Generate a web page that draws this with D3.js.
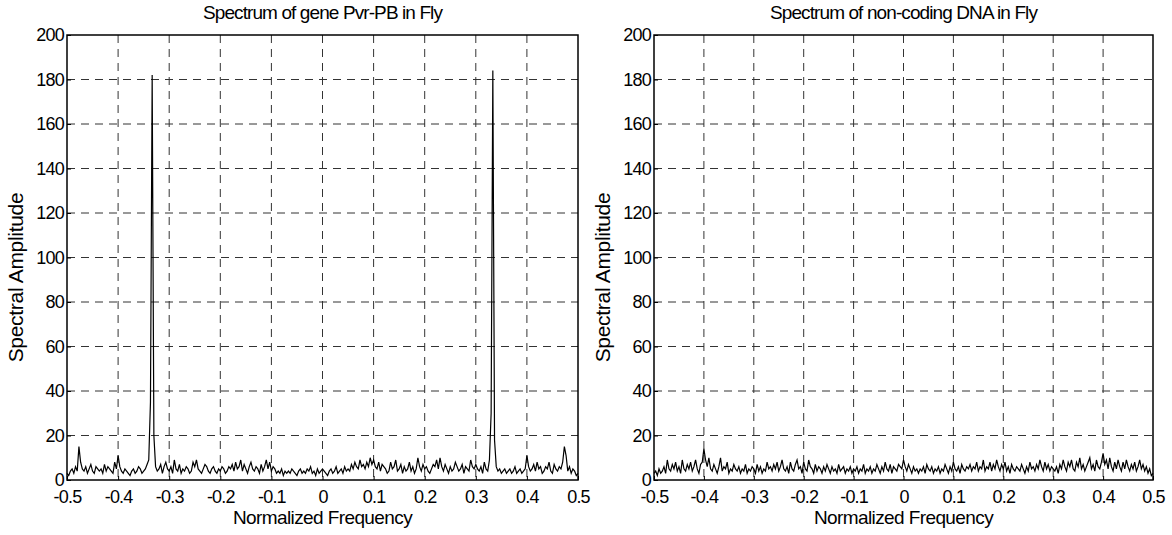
<!DOCTYPE html>
<html>
  <head>
    <title>Spectrum of gene vs non-coding DNA</title>
    <script src="https://cdn.jsdelivr.net/npm/d3@7/dist/d3.min.js"></script>
    <style>
      body { margin: 0; background: #fff; }
      text { font-family: "Liberation Sans", Arial, sans-serif; fill: #000; }
    </style>
  </head>
  <body>
    <svg width="1172" height="535"></svg>
    <script>
      // amplitude per frequency bin, 301 bins from -0.5 to 0.5
      const geneAmp = [
        3,2,4,5,3,6,4,15,8,5,
        4,6,3,5,7,4,3,6,5,4,
        5,3,7,4,6,5,4,3,8,5,
        11,6,4,3,5,4,3,2,4,5,
        3,4,6,5,3,4,5,7,9,35,
        182,20,6,4,5,7,3,6,8,5,
        4,6,3,9,5,4,7,3,5,4,
        6,5,3,4,8,6,9,5,4,3,
        5,7,6,4,3,5,6,4,3,5,
        4,6,5,3,4,6,5,7,4,8,
        5,6,9,4,7,5,3,6,8,5,
        4,6,5,3,7,4,6,9,5,8,
        4,6,5,3,4,3,5,2,4,3,
        4,3,5,4,3,2,4,5,3,4,
        3,5,4,6,3,4,2,5,3,4,
        5,4,3,2,4,5,3,4,6,3,
        4,5,3,6,4,5,4,7,5,8,
        6,5,9,6,7,5,8,6,10,7,
        9,6,5,8,4,7,6,5,3,4,
        8,5,6,9,4,5,7,3,6,4,
        5,8,4,6,3,5,10,6,4,7,
        5,6,4,3,5,7,6,9,5,10,
        6,4,7,5,3,6,4,5,8,6,
        4,5,7,3,6,5,4,9,6,5,
        7,5,4,6,3,8,5,4,9,30,
        184,18,6,4,5,3,4,5,3,4,
        5,3,4,6,3,4,5,3,4,5,
        11,6,4,5,7,4,8,5,6,3,
        4,6,5,8,4,3,7,5,4,6,
        5,8,15,11,4,6,3,5,4,2,
        3
      ];
      const noncodingAmp = [
        3,4,2,5,3,4,6,3,9,5,
        4,7,5,8,4,6,3,9,5,4,
        7,5,8,4,6,9,5,3,7,8,
        14,9,6,10,5,4,7,5,3,6,
        10,4,6,5,8,3,5,4,7,5,
        4,6,3,5,4,7,3,5,4,6,
        5,3,7,4,6,3,5,4,8,5,
        6,4,7,5,8,4,6,9,5,4,
        6,3,8,5,4,7,9,5,6,3,
        8,5,4,9,6,5,3,7,4,6,
        5,3,6,4,7,5,3,6,4,5,
        3,7,4,5,6,3,5,4,6,3,
        5,4,6,3,5,4,7,3,5,4,
        6,3,5,4,7,5,3,6,4,8,
        5,4,7,3,6,5,4,7,6,5,
        9,6,4,7,5,3,6,4,5,3,
        5,4,6,3,7,5,4,6,3,5,
        4,6,3,5,4,7,5,3,6,4,
        8,5,4,6,3,7,5,4,6,5,
        7,4,6,5,8,4,6,5,9,4,
        6,5,8,4,7,5,9,6,4,7,
        5,8,4,6,3,7,5,4,6,5,
        4,7,5,3,6,4,8,5,6,4,
        7,5,9,6,4,8,5,7,4,6,
        5,4,6,3,7,5,9,6,4,8,
        6,9,5,4,8,6,10,5,7,4,
        6,8,10,5,7,4,9,6,5,8,
        12,7,9,5,10,6,4,8,5,9,
        6,4,8,5,9,6,4,7,5,8,
        4,6,9,5,7,4,6,3,5,2,
        3
      ];
      const xTicks = [-0.5, -0.4, -0.3, -0.2, -0.1, 0, 0.1, 0.2, 0.3, 0.4, 0.5];
      const yTicks = [0, 20, 40, 60, 80, 100, 120, 140, 160, 180, 200];
      const titles = ["Spectrum of gene Pvr-PB in Fly", "Spectrum of non-coding DNA in Fly"];

      const svg = d3.select("svg");
      const plotTop = 35, plotBottom = 480;
      const panels = [
        { left: 67, right: 578, amp: geneAmp, title: titles[0] },
        { left: 654, right: 1153, amp: noncodingAmp, title: titles[1] }
      ];

      const fmt = d => String(d);

      panels.forEach(p => {
        const w = p.right - p.left, h = plotBottom - plotTop;
        const x = d3.scaleLinear().domain([-0.5, 0.5]).range([0, w]);
        const y = d3.scaleLinear().domain([0, 200]).range([h, 0]);
        const g = svg.append("g").attr("transform", `translate(${p.left},${plotTop})`);

        // grid
        g.append("g").selectAll("line").data(xTicks.slice(1, -1)).join("line")
          .attr("x1", d => x(d)).attr("x2", d => x(d))
          .attr("y1", 0).attr("y2", h)
          .attr("stroke", "#333").attr("stroke-width", 1)
          .attr("stroke-dasharray", "8,6");
        g.append("g").selectAll("line").data(yTicks.slice(1, -1)).join("line")
          .attr("x1", 0).attr("x2", w)
          .attr("y1", d => y(d)).attr("y2", d => y(d))
          .attr("stroke", "#333").attr("stroke-width", 1)
          .attr("stroke-dasharray", "8,6");

        // axes
        const xa = g.append("g").attr("transform", `translate(0,${h})`)
          .call(d3.axisBottom(x).tickValues(xTicks).tickFormat(fmt).tickSize(-4).tickPadding(10));
        const ya = g.append("g")
          .call(d3.axisLeft(y).tickValues(yTicks).tickFormat(fmt).tickSize(-4).tickPadding(3));
        [xa, ya].forEach(a => {
          a.select(".domain").remove();
          a.selectAll("text").style("font-size", "18px").style("letter-spacing", "-0.8px")
            .attr("fill", "#000");
          a.selectAll(".tick line").attr("stroke", "#000");
        });

        // spectrum line
        const n = p.amp.length;
        const line = d3.line()
          .x((d, i) => x(-0.5 + i / (n - 1)))
          .y(d => y(d));
        g.append("path").datum(p.amp)
          .attr("d", line)
          .attr("fill", "none")
          .attr("stroke", "#000")
          .attr("stroke-width", 1.2);

        // frame
        g.append("rect").attr("width", w).attr("height", h)
          .attr("fill", "none").attr("stroke", "#000").attr("stroke-width", 1.5);

        // labels
        g.append("text")
          .attr("x", w / 2).attr("y", -16)
          .attr("text-anchor", "middle")
          .style("font-size", "19px").style("letter-spacing", "-0.9px")
          .text(p.title);
        g.append("text")
          .attr("x", w / 2).attr("y", h + 44)
          .attr("text-anchor", "middle")
          .style("font-size", "19px").style("letter-spacing", "-0.6px")
          .text("Normalized Frequency");
        g.append("text")
          .attr("transform", `translate(-44,${h / 2 + 20}) rotate(-90)`)
          .attr("text-anchor", "middle")
          .style("font-size", "21px").style("letter-spacing", "-0.3px")
          .text("Spectral Amplitude");
      });
    </script>
  </body>
</html>
